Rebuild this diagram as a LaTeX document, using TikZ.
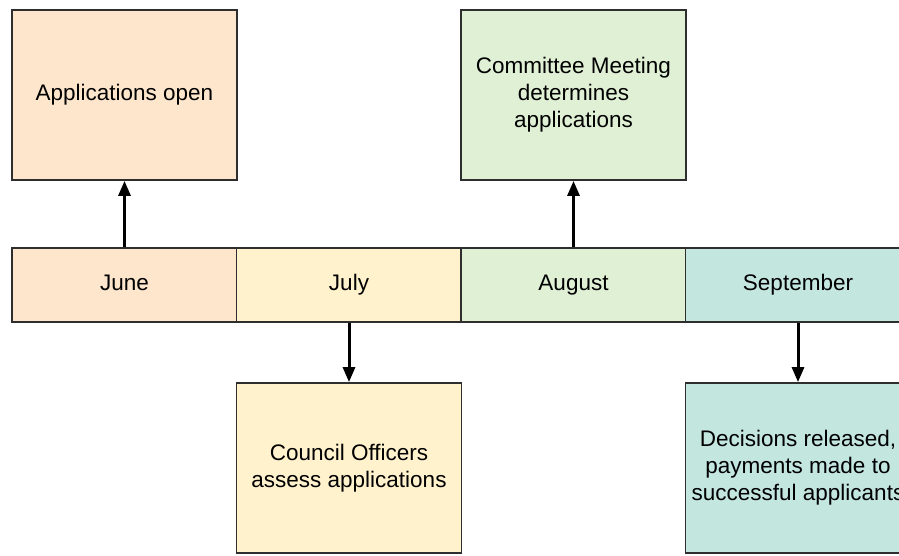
\documentclass[tikz,border=0pt]{standalone}
\usepackage{fontspec}
\setmainfont{Liberation Sans}
\usepackage{tikz}
\usetikzlibrary{positioning, calc, arrows.meta}

\definecolor{junefill}{HTML}{FDE6CB}
\definecolor{julyfill}{HTML}{FFF2CD}
\definecolor{augfill}{HTML}{E0F0D5}
\definecolor{sepfill}{HTML}{C3E6DF}
\definecolor{edge}{HTML}{2E2E2E}

\begin{document}
\begin{tikzpicture}[x=1pt, y=-1pt,
     cell/.style={draw=edge, line width=1.8pt, minimum width=225pt, minimum height=74pt,
          inner sep=0pt, text height=16pt, text depth=4.5pt, font=\fontsize{22.5}{27}\selectfont},
     card/.style={draw=edge, line width=1.8pt, minimum width=225pt, minimum height=170pt,
          inner sep=0pt, align=center, font=\fontsize{22.5}{27}\selectfont},
     link/.style={-{Triangle[length=15pt, width=12pt]}, line width=3pt, black}]
               \useasboundingbox (0,0) rectangle (899,556);
               \clip (0,0) rectangle (899,556);
               \fill[white] (0,0) rectangle (899,556);
               % month bar
               \node[cell, fill=junefill] (june) at (124.5,285) {June};
               \node[cell, fill=julyfill] (july) at (349,285) {July};
               \node[cell, fill=augfill] (aug) at (573.5,285) {August};
               \node[cell, fill=sepfill] (sep) at (798,285) {September};
               % cards
               \node[card, fill=junefill] (open) at (124.5,95) {Applications open};
               \node[card, fill=augfill] (meet) at (573.5,95) {Committee Meeting\\determines\\applications};
               \node[card, fill=julyfill] (assess) at (349,468) {Council Officers\\assess applications};
               \node[card, fill=sepfill] (decide) at (798,468) {Decisions released,\\payments made to\\successful applicants};
               % links
               \draw[link] (june.north) -- (open.south);
               \draw[link] (aug.north) -- (meet.south);
               \draw[link] (july.south) -- (assess.north);
               \draw[link] (sep.south) -- (decide.north);
          \end{tikzpicture}
\end{document}
